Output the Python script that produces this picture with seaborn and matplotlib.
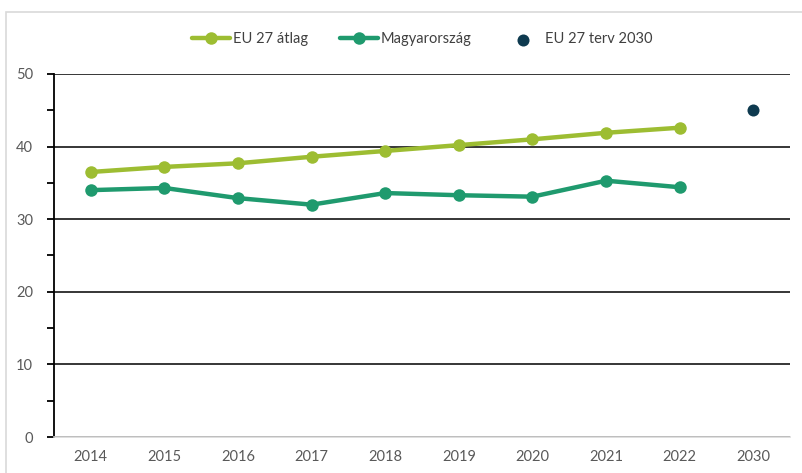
import pandas as pd
import numpy as np
import matplotlib.pyplot as plt
import seaborn as sns
from matplotlib.patches import Rectangle
from matplotlib.ticker import MultipleLocator

# Data
years = ["2014", "2015", "2016", "2017", "2018", "2019", "2020", "2021", "2022"]
eu_avg = [36.5, 37.2, 37.7, 38.6, 39.4, 40.2, 41.0, 41.9, 42.6]
hungary = [34.0, 34.3, 32.9, 32.0, 33.6, 33.3, 33.1, 35.3, 34.4]
target_year = ["2030"]
target_value = [45.0]

df = pd.DataFrame({"year": years, "EU 27 átlag": eu_avg, "Magyarország": hungary})
target = pd.DataFrame({"year": target_year, "value": target_value})

sns.set_style("white")
plt.rcParams['font.family'] = ['Lato', 'DejaVu Sans']

fig = plt.figure(figsize=(8.03, 4.73), dpi=100)
ax = fig.add_axes([0.0672, 0.0761, 0.9168, 0.7675])

# light outer frame like the exported chart area
fig.patches.append(Rectangle((0.007, -0.01), 1.0, 0.985, transform=fig.transFigure,
                             fill=False, edgecolor='#d9d9d9', linewidth=1.2))

c_eu = '#9dbd32'
c_hu = '#1f9a6e'
c_target = '#0e3a4f'

sns.lineplot(data=df, x="year", y="EU 27 átlag", ax=ax, color=c_eu, linewidth=3.2,
             marker='o', markersize=9, markeredgewidth=0, label="EU 27 átlag", sort=False)
sns.lineplot(data=df, x="year", y="Magyarország", ax=ax, color=c_hu, linewidth=3.2,
             marker='o', markersize=9, markeredgewidth=0, label="Magyarország", sort=False)
sns.scatterplot(data=target, x="year", y="value", ax=ax, color=c_target, s=75,
                linewidth=0, label="EU 27 terv 2030")

ax.set_xlim(-0.5, 9.5)
ax.set_ylim(0, 50)
ax.yaxis.set_major_locator(MultipleLocator(10))
ax.yaxis.set_minor_locator(MultipleLocator(5))
ax.grid(axis='y', which='major', color='#262626', linewidth=1.3)
ax.set_axisbelow(True)

for s in ['top', 'right']:
    ax.spines[s].set_visible(False)
ax.spines['left'].set_color('black')
ax.spines['left'].set_linewidth(1.3)
ax.spines['bottom'].set_color('#d9d9d9')
ax.spines['bottom'].set_linewidth(1.2)

ax.tick_params(axis='y', which='both', direction='out', length=5, width=1.3,
               color='black', left=True, labelsize=10.5, labelcolor='#595959', pad=10)
ax.tick_params(axis='x', length=0, labelsize=10.5, labelcolor='#595959', pad=9)
ax.set_xlabel("")
ax.set_ylabel("")

ax.legend(loc='lower center', bbox_to_anchor=(0.5, 1.04), ncol=3, frameon=False,
          fontsize=10.5, labelcolor='#404040', handlelength=2.6, columnspacing=2.2,
          handletextpad=0.2)

fig.savefig("out.png", dpi=100)
